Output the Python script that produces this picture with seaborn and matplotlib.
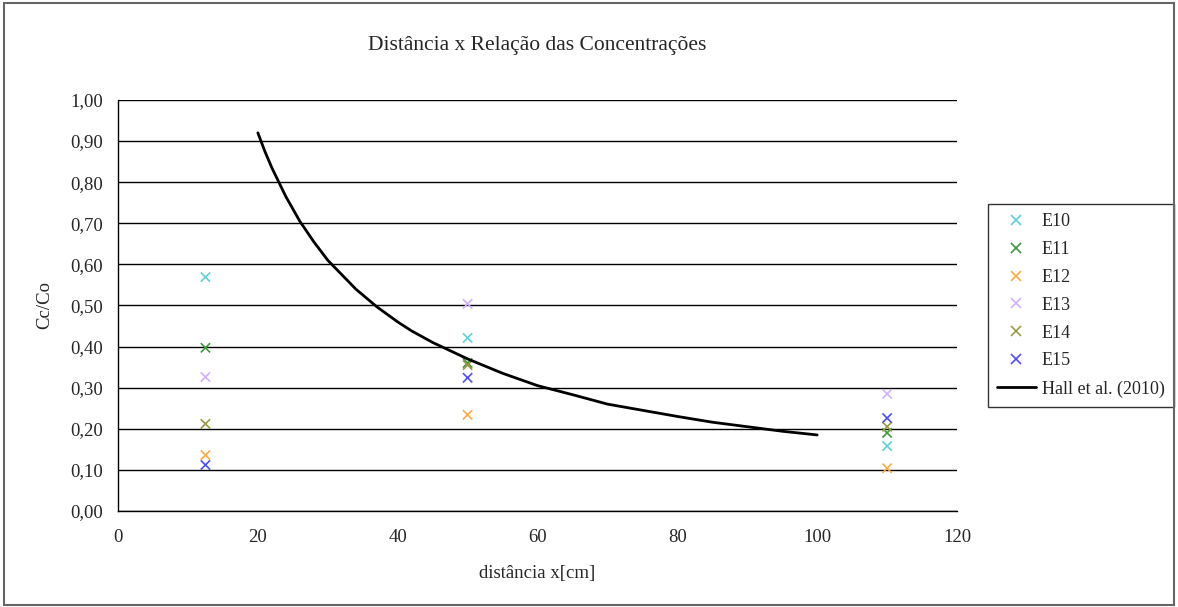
import matplotlib
matplotlib.use("Agg")
import matplotlib.pyplot as plt
import seaborn as sns
import pandas as pd
from matplotlib.patches import Rectangle

# Ensaios E10..E15 at three distances
distancias = [12.5, 50, 110]
e10 = [0.569, 0.421, 0.158]
e11 = [0.397, 0.360, 0.190]
e12 = [0.136, 0.234, 0.104]
e13 = [0.326, 0.504, 0.285]
e14 = [0.212, 0.355, 0.205]
e15 = [0.112, 0.324, 0.226]
ensaios = ["E10", "E11", "E12", "E13", "E14", "E15"]
cores = ["#5fd3d3", "#3e9a3e", "#ffaa44", "#d0b0ff", "#999944", "#4d4dff"]

# Hall et al. (2010) curve
hall_x = [20, 21, 22, 23, 24, 26, 28, 30, 32, 34, 37, 40, 42, 45, 50,
          55, 60, 65, 70, 75, 80, 85, 90, 95, 100]
hall_y = [0.92, 0.875, 0.835, 0.80, 0.765, 0.705, 0.655, 0.61, 0.575, 0.54,
          0.497, 0.46, 0.438, 0.41, 0.37, 0.335, 0.305, 0.283, 0.26, 0.245,
          0.23, 0.216, 0.205, 0.194, 0.185]

df = pd.DataFrame({
    "x": distancias * 6,
    "y": e10 + e11 + e12 + e13 + e14 + e15,
    "ensaio": [e for e in ensaios for _ in distancias],
})

sns.set_style("white")
plt.rcParams["font.family"] = ["Liberation Serif", "DejaVu Serif"]

fig = plt.figure(figsize=(11.78, 6.07), dpi=100)
ax = fig.add_axes([0.1002, 0.1582, 0.7122, 0.6771])

sns.scatterplot(data=df, x="x", y="y", hue="ensaio", palette=cores,
                marker="x", s=45, linewidth=1.2, ax=ax, zorder=3)
sns.lineplot(x=hall_x, y=hall_y, color="black", linewidth=2,
             label="Hall et al. (2010)", ax=ax, zorder=4)

ax.set_xlim(0, 120)
ax.set_ylim(0, 1.0)
ax.set_xticks(range(0, 121, 20))
ax.set_yticks([i / 10 for i in range(11)])
ax.set_yticklabels([f"{i / 10:.2f}".replace(".", ",") for i in range(11)])
ax.yaxis.grid(True, color="black", linewidth=1)
ax.xaxis.grid(False)
ax.set_axisbelow(True)
for s in ["top", "right"]:
    ax.spines[s].set_visible(False)
for s in ["left", "bottom"]:
    ax.spines[s].set_color("black")
    ax.spines[s].set_linewidth(1)
ax.tick_params(axis="both", direction="out", length=5, width=1, color="black",
               labelsize=13.5, pad=6)
ax.tick_params(axis="x", pad=8)

ax.set_xlabel("distância x[cm]", fontsize=13.5, labelpad=14)
ax.set_ylabel("Cc/Co", fontsize=13.5, labelpad=12)
ax.set_title("Distância x Relação das Concentrações", fontsize=15.5, pad=36)

leg = ax.legend(loc="center left", bbox_to_anchor=(1.03, 0.5), frameon=True,
                fancybox=False, edgecolor="black", fontsize=13,
                handlelength=2.2, handletextpad=0.3, labelspacing=0.6,
                borderpad=0.5, borderaxespad=0.3)
leg.get_frame().set_linewidth(1)

fig.patches.append(Rectangle((0.003, 0.003), 0.994, 0.992, transform=fig.transFigure,
                             fill=False, edgecolor="#666666", linewidth=1.5))

fig.savefig("out.png", dpi=100)
